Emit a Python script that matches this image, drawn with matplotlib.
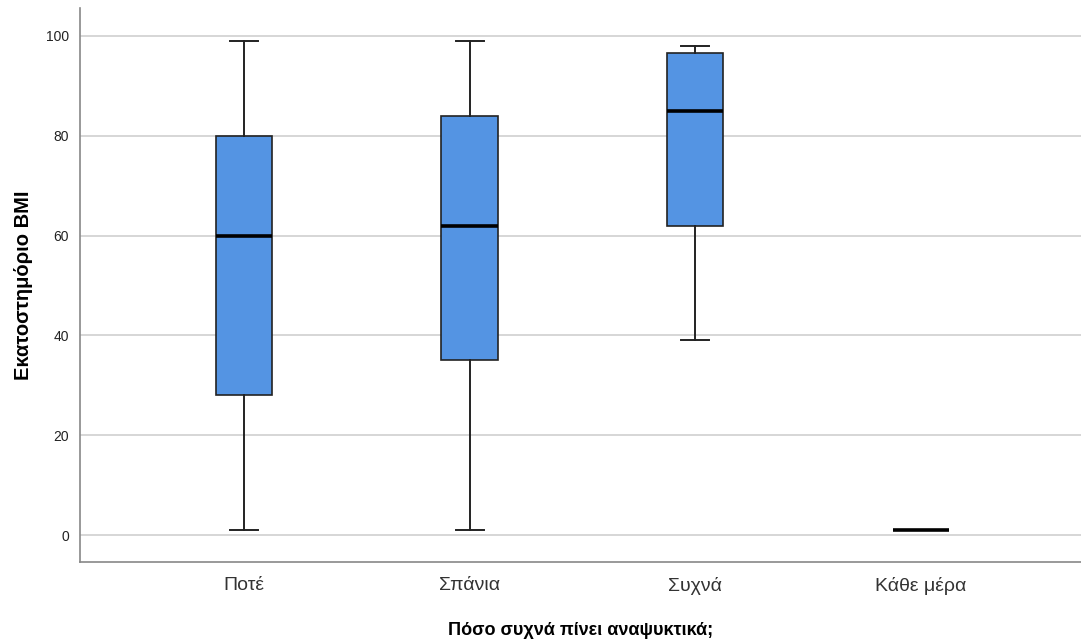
import matplotlib
matplotlib.use("Agg")
import matplotlib.pyplot as plt

categories = ["Ποτέ", "Σπάνια", "Συχνά", "Κάθε μέρα"]
whisker_low = [1, 1, 39, 1]
q1 = [28, 35, 62, 1]
median = [60, 62, 85, 1]
q3 = [80, 84, 96.5, 1]
whisker_high = [99, 99, 98, 1]

plt.rcParams["font.family"] = ["Liberation Sans", "DejaVu Sans"]

fig = plt.figure(figsize=(10.81, 6.42), dpi=100)
ax = fig.add_axes([80 / 1081, 1 - 562 / 642, 1 - 80 / 1081, (562 - 8) / 642])

stats = []
for name, lo, a, m, b, hi in zip(categories, whisker_low, q1, median, q3, whisker_high):
    stats.append(dict(label=name, whislo=lo, q1=a, med=m, q3=b, whishi=hi, fliers=[]))

ax.bxp(
    stats,
    positions=range(len(categories)),
    widths=0.25,
    patch_artist=True,
    showfliers=False,
    boxprops=dict(facecolor="#5494e3", edgecolor="#222222", linewidth=1.2),
    medianprops=dict(color="black", linewidth=2.6),
    whiskerprops=dict(color="#222222", linewidth=1.4),
    capprops=dict(color="#222222", linewidth=1.4),
    capwidths=0.125,
    zorder=3,
)

ax.set_xlim(-0.727, 3.71)
ax.set_ylim(-5.4, 105.6)
ax.set_yticks([0, 20, 40, 60, 80, 100])
ax.yaxis.grid(True, color="#cfcfcf", linewidth=1.2, zorder=0)
ax.set_axisbelow(True)
ax.tick_params(axis="both", length=0)
ax.tick_params(axis="y", labelsize=10, colors="#222222", pad=8)
ax.tick_params(axis="x", labelsize=14, colors="#333333", pad=11)
for lab in ax.get_xticklabels():
    lab.set_family(["Liberation Sans Narrow", "Liberation Sans", "DejaVu Sans"])
for side in ("top", "right"):
    ax.spines[side].set_visible(False)
for side in ("left", "bottom"):
    ax.spines[side].set_color("#888888")
    ax.spines[side].set_linewidth(1.2)

ax.set_xlabel("Πόσο συχνά πίνει αναψυκτικά;", fontsize=13, fontweight="bold", labelpad=19)
ax.set_ylabel("Εκατοστημόριο BMI", fontsize=14.5, fontweight="bold", labelpad=9)

fig.savefig("out.png", dpi=100)
